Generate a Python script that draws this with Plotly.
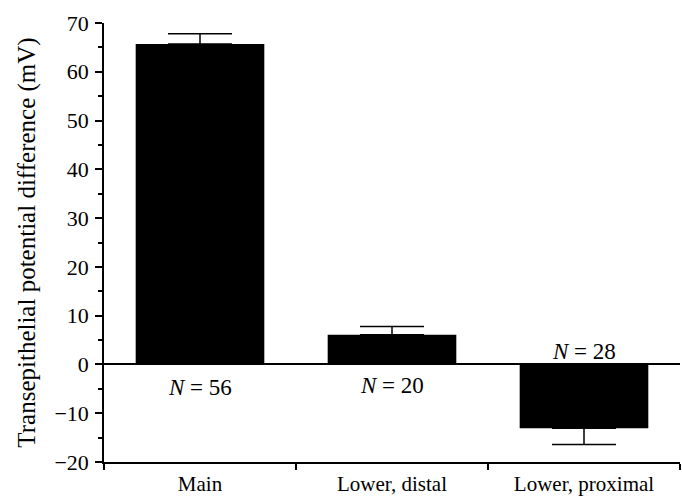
import plotly.graph_objects as go

categories = ["Main", "Lower, distal", "Lower, proximal"]
values = [65.7, 6.1, -13.1]
err_plus = [2.1, 1.7, 0]
err_minus = [0, 0, 3.3]
n_labels = ["<i>N</i> = 56", "<i>N</i> = 20", "<i>N</i> = 28"]
n_label_y = [-4.8, -4.3, 2.7]

FONT = "Liberation Serif, Times New Roman, serif"

fig = go.Figure()
fig.add_trace(go.Bar(
    x=categories, y=values, width=0.67,
    marker=dict(color="black", line=dict(width=0)),
    error_y=dict(type="data", symmetric=False, array=err_plus, arrayminus=err_minus,
                 color="black", thickness=1.5, width=32),
    showlegend=False,
))

for c, t, yy in zip(categories, n_labels, n_label_y):
    fig.add_annotation(x=c, y=yy, text=t, showarrow=False,
                       font=dict(family=FONT, size=23, color="black"),
                       xanchor="center", yanchor="middle")

fig.update_layout(
    width=682, height=498,
    margin=dict(l=104, r=2, t=23, b=36),
    paper_bgcolor="white", plot_bgcolor="white",
    font=dict(family=FONT, size=21, color="black"),
    bargap=0.33,
)
fig.update_xaxes(
    type="category", showline=True, linecolor="black", linewidth=1.5,
    ticks="outside", tickson="boundaries", ticklen=6, tickwidth=1.5, tickcolor="black",
    showgrid=False, zeroline=False, tickfont=dict(size=21), automargin=False,
    ticklabelstandoff=2,
)
fig.update_yaxes(
    range=[-20, 70], dtick=10, tick0=0, showline=True, linecolor="black", linewidth=1.5,
    ticks="outside", ticklen=7, tickwidth=1.5, tickcolor="black",
    minor=dict(dtick=5, ticks="outside", ticklen=4, tickwidth=1.5, tickcolor="black"),
    showgrid=False, zeroline=True, zerolinecolor="black", zerolinewidth=1.5,
    tickfont=dict(size=22), automargin=False, ticklabelstandoff=2,
    title=dict(text="Transepithelial potential difference (mV)", font=dict(size=25), standoff=12),
)

fig.write_html("out.html", config={"displayModeBar": False},
               post_script="document.body.style.margin='0';")
